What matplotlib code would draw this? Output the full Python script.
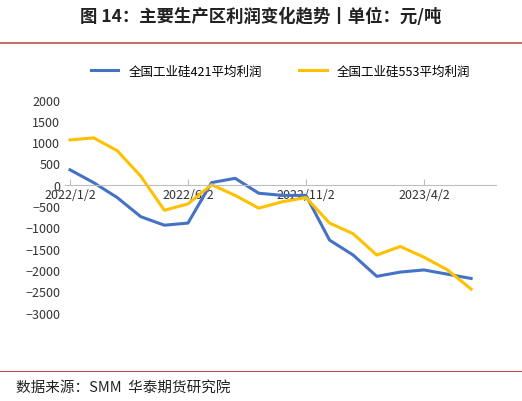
import matplotlib
matplotlib.use("Agg")
import matplotlib.pyplot as plt

plt.rcParams['font.family'] = ['Noto Sans CJK SC', 'DejaVu Sans']

months = ['2022/1/2','2022/2/2','2022/3/2','2022/4/2','2022/5/2','2022/6/2','2022/7/2','2022/8/2','2022/9/2',
          '2022/10/2','2022/11/2','2022/12/2','2023/1/2','2023/2/2','2023/3/2','2023/4/2','2023/5/2','2023/6/2']
si421 = [350, 50, -300, -750, -950, -900, 50, 150, -200, -250, -250, -1300, -1650, -2150, -2050, -2000, -2100, -2200]
si553 = [1050, 1100, 800, 200, -600, -450, 0, -250, -550, -400, -300, -900, -1150, -1650, -1450, -1700, -2000, -2450]
tick_idx = [0, 5, 10, 15]

fig = plt.figure(figsize=(5.22, 4.02), dpi=100)
fig.text(0.5, 0.958, '图 14：主要生产区利润变化趋势丨单位：元/吨', ha='center', va='center',
         fontsize=12.5, fontweight='bold', color='#222222')
fig.add_artist(plt.Line2D([0.0, 1.0], [0.89, 0.89], color='#C0504D', lw=1.2))
fig.add_artist(plt.Line2D([0.0, 1.0], [0.075, 0.075], color='#C0504D', lw=0.8))
fig.text(0.03, 0.035, '数据来源：SMM  华泰期货研究院', ha='left', va='center', fontsize=10.5, color='#222222')

ax = fig.add_axes([0.125, 0.22, 0.825, 0.53])
x = list(range(len(months)))
ax.plot(x, si421, color='#4472C4', lw=2.2, label='全国工业硅421平均利润')
ax.plot(x, si553, color='#FFC000', lw=2.2, label='全国工业硅553平均利润')
ax.set_ylim(-3000, 2000)
ax.set_yticks(range(-3000, 2001, 500))
ax.set_xlim(-0.2, 18.05)
ax.set_xticks(tick_idx)
ax.set_xticklabels([months[i] for i in tick_idx])
for s in ['top', 'right', 'left']:
    ax.spines[s].set_visible(False)
ax.spines['bottom'].set_position(('data', 0))
ax.spines['bottom'].set_color('#BFBFBF')
ax.tick_params(axis='y', length=0, labelsize=9, colors='#333333')
ax.tick_params(axis='x', length=4, direction='in', color='#BFBFBF', labelsize=9, colors='#333333', pad=2)
ax.legend(loc='lower center', bbox_to_anchor=(0.5, 1.05), ncol=2, frameon=False, fontsize=9,
          handlelength=2.2, columnspacing=3)
fig.savefig('out.png', dpi=100)
